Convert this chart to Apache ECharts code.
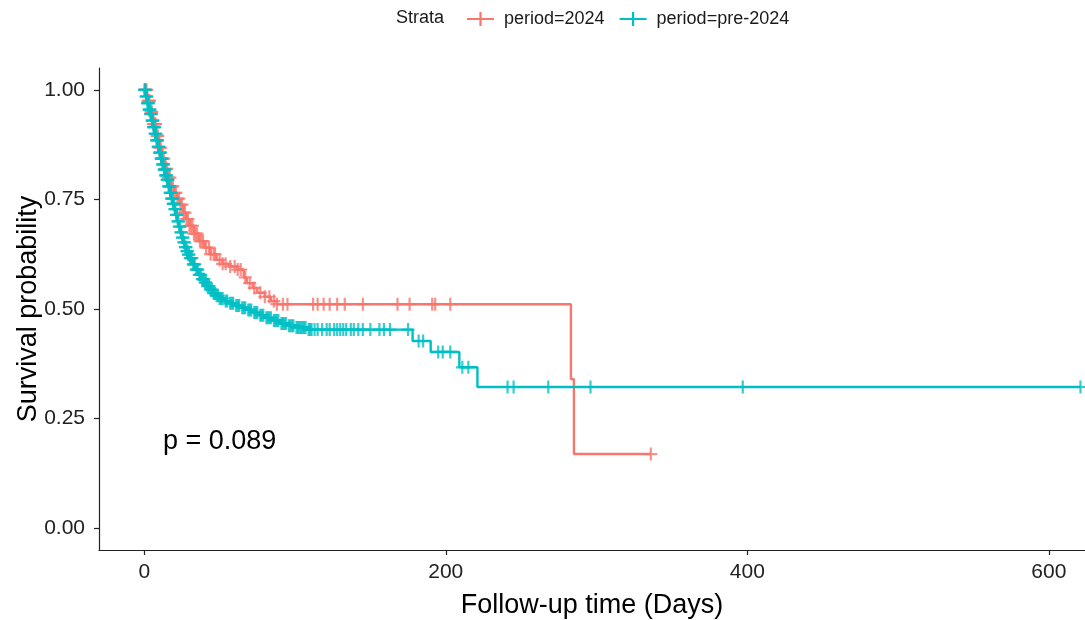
<!DOCTYPE html>
<html>
<head>
<meta charset="utf-8">
<title>Survival curves</title>
<script src="https://cdn.jsdelivr.net/npm/echarts@6/dist/echarts.min.js"></script>
<style>
    html, body { margin: 0; padding: 0; background: #fff; }
    #main { width: 1085px; height: 620px; }
</style>
</head>
<body>
<div id="main"></div>
<script>
// period=2024 : step times / survival
const curTimes = [0, 2, 4, 6, 8, 10, 12, 14, 16, 18, 20, 22, 24, 26, 28, 30, 33, 36, 40, 44, 48, 52, 56, 62, 66, 68, 72, 75, 80, 84, 88, 283, 285];
const curSurv = [1.0, 0.975, 0.95, 0.922, 0.895, 0.868, 0.843, 0.82, 0.80, 0.78, 0.765, 0.752, 0.738, 0.72, 0.705, 0.69, 0.672, 0.655, 0.64, 0.625, 0.612, 0.603, 0.597, 0.59, 0.572, 0.559, 0.548, 0.537, 0.528, 0.518, 0.511, 0.34, 0.169];
const curCensor = [0.5, 1, 1.5, 2.5, 3, 3.5, 4.5, 5, 6, 7, 7.5, 8.5, 9, 10, 11, 12, 13, 14, 15, 16, 17, 18, 19, 20, 21, 22, 23, 24, 25, 26, 27, 28, 29, 30, 31, 32, 33, 34, 35, 37, 38, 39, 41, 43, 44, 46, 47, 50, 52, 54, 57, 60, 62, 64, 67, 70, 73, 77, 80, 83, 86,
    88, 92, 95, 112, 115, 119, 123, 128, 133, 145, 168, 176, 191, 193, 203, 336];

// period=pre-2024
const preTimes = [0, 1, 2, 3, 4, 5, 6, 7, 8, 9, 10, 11, 12, 13, 14, 15, 16, 17, 18, 19, 20, 21, 22, 23, 24, 25, 26, 27, 28, 29, 30,
    32, 34, 36, 38, 40, 42, 44, 46, 48, 50, 53, 56, 60, 64, 68, 72, 76, 80, 85, 90, 95, 100, 108, 178, 190, 209, 221];
const preSurv = [1.0, 0.985, 0.97, 0.955, 0.945, 0.93, 0.915, 0.90, 0.885, 0.87, 0.857, 0.843, 0.83, 0.818, 0.805, 0.795, 0.78, 0.765, 0.752, 0.74, 0.728, 0.715, 0.70, 0.688, 0.675, 0.663, 0.652, 0.641, 0.632, 0.624, 0.616,
    0.602, 0.59, 0.578, 0.568, 0.56, 0.552, 0.544, 0.536, 0.53, 0.524, 0.518, 0.513, 0.508, 0.503, 0.498, 0.492, 0.486, 0.48, 0.474, 0.467, 0.462, 0.458, 0.453, 0.427, 0.402, 0.367, 0.322];
const preCensor = [0.2, 0.5, 0.8, 1.2, 1.5, 1.8, 2.2, 2.5, 2.8, 3.2, 3.5, 3.8, 4.2, 4.5, 4.8, 5.2, 5.5, 5.8, 6.2, 6.5, 6.8, 7.2, 7.5, 7.8, 8.2, 8.5, 8.8, 9.2, 9.5, 9.8,
    10.2, 10.5, 10.8, 11.2, 11.5, 11.8, 12.2, 12.5, 12.8, 13.2, 13.5, 13.8, 14.2, 14.5, 14.8, 15.2, 15.5, 15.8, 16.2, 16.5, 16.8, 17.2, 17.5, 17.8, 18.2, 18.5, 18.8, 19.2, 19.5, 19.8,
    20.3, 20.7, 21.3, 21.7, 22.3, 22.7, 23.3, 23.7, 24.3, 24.7, 25.3, 25.7, 26.3, 26.7, 27.3, 27.7, 28.3, 28.7, 29.3, 29.7,
    30.5, 31, 31.5, 32.5, 33, 33.5, 34.5, 35, 35.5, 36.5, 37, 37.5, 38.5, 39, 39.5, 40.5, 41, 42, 43, 44, 45, 46, 47, 48, 49, 50, 51, 52, 54, 55, 57, 58, 59, 61, 62, 63, 65, 66, 67, 69, 70, 71, 73, 74, 75, 77, 78, 79,
    81, 82, 83, 84, 86, 87, 88, 89, 91, 92, 93, 94, 96, 97, 98, 99, 101, 102, 103, 104, 105, 106, 107, 109, 110, 111,
    113, 115, 118, 121, 123, 126, 128, 130, 132, 134, 137, 139, 142, 145, 150, 156, 159, 163, 175,
    182, 185, 195, 198, 203, 211, 215, 241, 245, 268, 296, 397, 621];

const xTicks = [0, 200, 400, 600];
const yTicks = [0, 0.25, 0.5, 0.75, 1];

const COL_CUR = '#F8766D';
const COL_PRE = '#00BFC4';
const FONT = 'Liberation Sans, Arial, sans-serif';
const PLUS = 'path://M5.4,0H7.6V5.4H13V7.6H7.6V13H5.4V7.6H0V5.4H5.4Z';
const LEGEND_PLUS = 'path://M0,5.9H27V8.1H0Z M12.4,0H14.6V14H12.4Z';

function survAt(times, surv, t){
    let s = surv[0];
    for (let i = 0; i < times.length; i++){
        if (times[i] <= t) s = surv[i];
    }
    return s;
}

function stepData(times, surv, censor){
    const d = times.map(function (t, i) { return [t, surv[i]]; });
    const last = censor[censor.length - 1];
    d.push([last, survAt(times, surv, last)]);
    return d;
}

function censorData(times, surv, censor){
    return censor.map(function (t) { return [t, survAt(times, surv, t)]; });
}

const myChart = echarts.init(document.getElementById('main'), null, {renderer: 'canvas'});

const option = {
    animation: false,
    backgroundColor: '#fff',
    textStyle: {fontFamily: FONT},
    grid: {left: 99, right: 0, top: 68, bottom: 70, containLabel: false, outerBoundsMode: 'none'},
    legend: {
        left: 462, top: 5,
        itemWidth: 27, itemHeight: 14, itemGap: 15,
        textStyle: {fontSize: 18, color: '#1a1a1a', fontFamily: FONT, padding: [0, 0, 0, 5]},
        data: [
            {name: 'period=2024', icon: LEGEND_PLUS, itemStyle: {color: COL_CUR}},
            {name: 'period=pre-2024', icon: LEGEND_PLUS, itemStyle: {color: COL_PRE}}
        ]
    },
    graphic: [
        {type: 'text', left: 396, top: 9, style: {text: 'Strata', fontSize: 18, fill: '#1a1a1a', fontFamily: FONT}},
        {type: 'text', left: 163, top: 428, style: {text: 'p = 0.089', fontSize: 27, fill: '#000', fontFamily: FONT}}
    ],
    xAxis: {
        type: 'value', min: -30, max: 624,
        name: 'Follow-up time (Days)', nameLocation: 'middle', nameGap: 42, nameMoveOverlap: false,
        nameTextStyle: {fontSize: 27, color: '#000', fontFamily: FONT},
        axisLine: {show: true, onZero: false, lineStyle: {color: '#222', width: 1.2}},
        axisTick: {show: true, length: 5, customValues: xTicks, lineStyle: {color: '#222', width: 1.2}},
        axisLabel: {customValues: xTicks, fontSize: 21, color: '#222', margin: 12, fontFamily: FONT},
        splitLine: {show: false}
    },
    yAxis: {
        type: 'value', min: -0.05, max: 1.05,
        name: 'Survival probability', nameLocation: 'middle', nameGap: 57, nameMoveOverlap: false,
        nameTextStyle: {fontSize: 27, color: '#000', fontFamily: FONT},
        axisLine: {show: true, onZero: false, lineStyle: {color: '#222', width: 1.2}},
        axisTick: {show: true, length: 5, customValues: yTicks, lineStyle: {color: '#222', width: 1.2}},
        axisLabel: {customValues: yTicks, fontSize: 21, color: '#222', margin: 14, fontFamily: FONT,
            formatter: function (v) { return v.toFixed(2); }},
        splitLine: {show: false}
    },
    series: [
        {name: 'period=2024', type: 'line', step: 'end', showSymbol: false, color: COL_CUR, z: 2,
            lineStyle: {width: 2.4, color: COL_CUR}, data: stepData(curTimes, curSurv, curCensor)},
        {name: 'period=pre-2024', type: 'line', step: 'end', showSymbol: false, color: COL_PRE, z: 3,
            lineStyle: {width: 2.4, color: COL_PRE}, data: stepData(preTimes, preSurv, preCensor)},
        {name: 'period=2024', type: 'scatter', symbol: PLUS, symbolSize: 13, z: 4,
            itemStyle: {color: COL_CUR}, data: censorData(curTimes, curSurv, curCensor)},
        {name: 'period=pre-2024', type: 'scatter', symbol: PLUS, symbolSize: 13, z: 5,
            itemStyle: {color: COL_PRE}, data: censorData(preTimes, preSurv, preCensor)}
    ]
};

myChart.setOption(option);
</script>
</body>
</html>
